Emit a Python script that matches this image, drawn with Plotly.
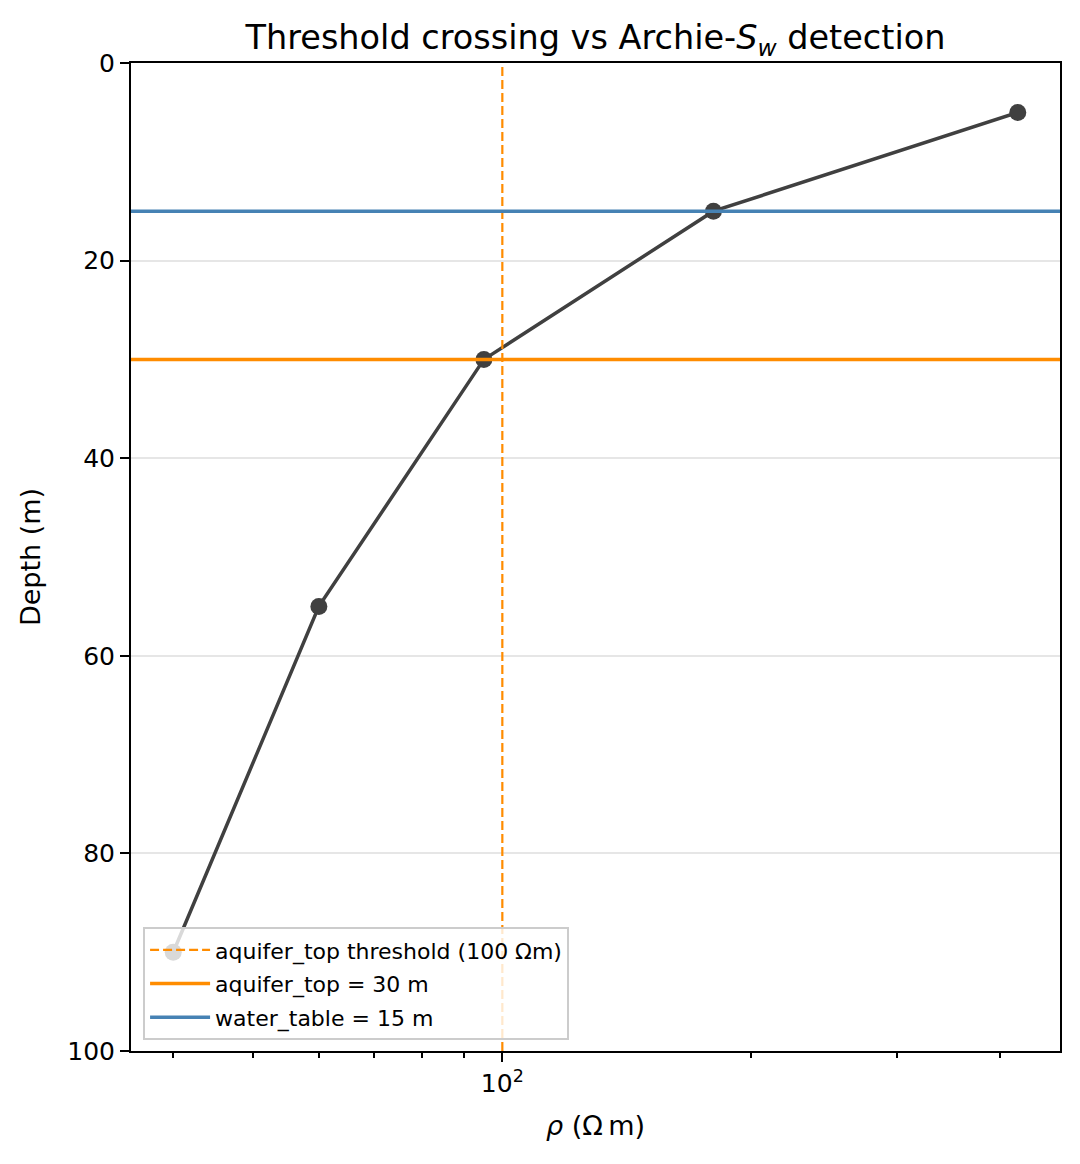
import numpy as np
import plotly.graph_objects as go

# resistivity profile
depth_m = [5, 15, 30, 55, 90]
rho_ohm_m = [420, 180, 95, 60, 40]

threshold_rho = 100
aquifer_top = 30
water_table = 15

x_major = [100]
x_major_text = ["10<sup>2</sup>"]
x_minor = [40, 50, 60, 70, 80, 90, 200, 300, 400]
y_ticks = [0, 20, 40, 60, 80, 100]

orange = "#FF8C00"
blue = "#4682B4"
font = "DejaVu Sans"

fig = go.Figure()

fig.add_trace(go.Scatter(
    x=rho_ohm_m, y=depth_m, mode="lines+markers",
    line=dict(color="#404040", width=3.5),
    marker=dict(color="#404040", size=17),
    showlegend=False
))

# reference lines
fig.add_vline(x=threshold_rho, line=dict(color=orange, width=2.2, dash="9px,4px"))
fig.add_hline(y=aquifer_top, line=dict(color=orange, width=3.5))
fig.add_hline(y=water_table, line=dict(color=blue, width=3.5))

# legend entries for the lines (one group each so rows get a small gap)
fig.add_trace(go.Scatter(x=[None], y=[None], mode="lines", legendgroup="a",
                         line=dict(color=orange, width=2.2, dash="9px,4px"),
                         name=f"aquifer_top threshold ({threshold_rho} Ωm)"))
fig.add_trace(go.Scatter(x=[None], y=[None], mode="lines", legendgroup="b",
                         line=dict(color=orange, width=3.5),
                         name=f"aquifer_top = {aquifer_top} m"))
fig.add_trace(go.Scatter(x=[None], y=[None], mode="lines", legendgroup="c",
                         line=dict(color=blue, width=3.5),
                         name=f"water_table = {water_table} m"))

lo = np.log10(min(rho_ohm_m))
hi = np.log10(max(rho_ohm_m))
pad = 0.05 * (hi - lo)

fig.update_layout(
    width=1080, height=1164,
    margin=dict(l=123, r=28, t=55, b=121),
    plot_bgcolor="white", paper_bgcolor="white",
    font=dict(family=font, size=25, color="black"),
    title=dict(text="Threshold crossing vs Archie-<i>S</i><sub><i>w</i></sub> detection",
               x=0.5, xref="paper", xanchor="center", y=0.975, yanchor="middle",
               font=dict(family=font, size=33.5, color="black")),
    xaxis=dict(
        type="log", range=[lo - pad, hi + pad],
        tickmode="array", tickvals=x_major, ticktext=x_major_text,
        ticks="outside", ticklen=9, tickwidth=2, tickcolor="black",
        minor=dict(tickmode="array", tickvals=x_minor, ticks="outside",
                   ticklen=5, tickwidth=1.5, tickcolor="black", showgrid=False),
        showline=True, linecolor="black", linewidth=2, mirror=True,
        showgrid=False, zeroline=False,
        title=dict(text="<i>ρ</i> (Ω\u2009m)", standoff=19,
                   font=dict(family=font, size=27, color="black")),
    ),
    yaxis=dict(
        range=[100, 0], tickmode="array", tickvals=y_ticks,
        ticks="outside", ticklen=9, tickwidth=2, tickcolor="black",
        showline=True, linecolor="black", linewidth=2, mirror=True,
        showgrid=True, gridcolor="#e6e6e6", gridwidth=1.5, zeroline=False,
        title=dict(text="Depth (m)", standoff=19,
                   font=dict(family=font, size=27, color="black")),
    ),
    legend=dict(
        x=0.013, y=0.011, xanchor="left", yanchor="bottom",
        bgcolor="rgba(255,255,255,0.8)", bordercolor="#cccccc", borderwidth=2,
        font=dict(size=22), tracegroupgap=2, itemwidth=60,
    ),
)

fig.write_html("out.html")
